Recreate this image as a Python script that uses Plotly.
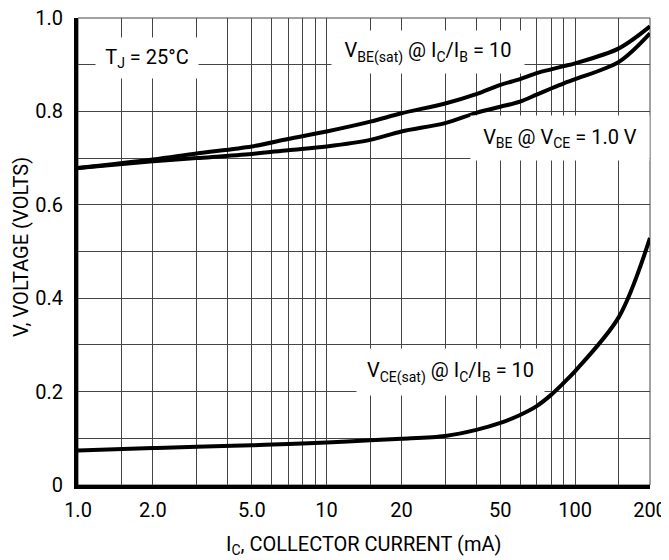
import math
import plotly.graph_objects as go

# Collector current (mA) at which values were read
ic_ma = [1, 2, 3, 5, 7, 10, 15, 20, 30, 40, 50, 60, 70, 80, 90, 100, 150, 200]

vbe_sat = [0.679, 0.697, 0.710, 0.725, 0.741, 0.757, 0.778, 0.796, 0.817, 0.837, 0.857, 0.869, 0.882, 0.890, 0.897, 0.903, 0.935, 0.982]
vbe_on = [0.679, 0.693, 0.700, 0.709, 0.717, 0.725, 0.739, 0.757, 0.775, 0.797, 0.810, 0.821, 0.836, 0.849, 0.860, 0.869, 0.906, 0.967]
vce_sat = [0.074, 0.079, 0.082, 0.085, 0.088, 0.091, 0.096, 0.099, 0.105, 0.118, 0.133, 0.150, 0.169, 0.193, 0.219, 0.244, 0.360, 0.529]

x_ticks = [1, 2, 5, 10, 20, 50, 100, 200]
x_tick_text = ["1.0", "2.0", "5.0", "10", "20", "50", "100", "200"]
x_grid = [1.5, 3, 4, 6, 7, 8, 9, 15, 30, 40, 60, 70, 80, 90, 150]
y_ticks = [0, 0.2, 0.4, 0.6, 0.8, 1.0]
y_tick_text = ["0", "0.2", "0.4", "0.6", "0.8", "1.0"]
y_grid = [0.1, 0.3, 0.5, 0.7, 0.9]

FONT = "Roboto, Liberation Sans, Arial, sans-serif"
GRID = "#454545"

fig = go.Figure()
for ys in (vbe_sat, vbe_on, vce_sat):
    fig.add_trace(go.Scatter(x=ic_ma, y=ys, mode="lines",
                             line=dict(color="black", width=4, shape="spline", smoothing=0.9),
                             showlegend=False, hoverinfo="skip"))

# the page body adds an 8 px offset, so the figure is 8 px smaller and shifted
fig.update_layout(
    width=661, height=552,
    margin=dict(l=70, r=19, t=10, b=75, autoexpand=False),
    paper_bgcolor="white", plot_bgcolor="white",
    font=dict(family=FONT, size=20, color="black"),
    xaxis=dict(type="log", range=[0, math.log10(200)],
               tickmode="array", tickvals=x_ticks, ticktext=x_tick_text,
               showgrid=True, gridcolor=GRID, gridwidth=1,
               minor=dict(tickmode="array", tickvals=x_grid, showgrid=True,
                          gridcolor=GRID, gridwidth=1, ticks=""),
               showline=True, linecolor="black", linewidth=4,
               ticks="", zeroline=False, automargin=False, ticklabelstandoff=4,
               ticklabeloverflow="allow"),
    yaxis=dict(range=[0, 1.0],
               tickmode="array", tickvals=y_ticks, ticktext=y_tick_text,
               showgrid=True, gridcolor=GRID, gridwidth=1,
               minor=dict(tickmode="array", tickvals=y_grid, showgrid=True,
                          gridcolor=GRID, gridwidth=1, ticks=""),
               showline=True, linecolor="black", linewidth=4,
               ticks="", zeroline=False, automargin=False, ticklabelstandoff=7,
               ticklabeloverflow="allow"),
)

fig.add_shape(type="rect", xref="paper", yref="paper", x0=0, y0=0, x1=1, y1=1,
              line=dict(color=GRID, width=1), layer="below")

# axis titles
fig.add_annotation(text="V, VOLTAGE (VOLTS)", textangle=-90, xref="paper", yref="paper",
                   x=-0.0995, y=0.51, xanchor="center", yanchor="middle",
                   showarrow=False, font=dict(size=20))
fig.add_annotation(text="I<sub>C</sub>, COLLECTOR CURRENT (mA)", xref="paper", yref="paper",
                   x=0.5, y=-0.128, xanchor="center", yanchor="middle", showarrow=False,
                   font=dict(size=20))

ann = dict(showarrow=False, bgcolor="white", xanchor="center", yanchor="middle",
           font=dict(family=FONT, size=20, color="black"))
fig.add_annotation(x=(147 - 78) / 572, y=0.914, xref="paper", yref="y",
                   text="T<sub>J</sub> = 25°C", width=100, height=38, **ann)
fig.add_annotation(x=(428 - 78) / 572, y=0.928, xref="paper", yref="y",
                   text="V<sub>BE(sat)</sub> @ I<sub>C</sub>/I<sub>B</sub> = 10", width=190, height=40, **ann)
fig.add_annotation(x=(560 - 78) / 572, y=0.742, xref="paper", yref="y",
                   text="V<sub>BE</sub> @ V<sub>CE</sub> = 1.0 V", width=176, height=42, **ann)
fig.add_annotation(x=(450 - 78) / 572, y=0.242, xref="paper", yref="y",
                   text="V<sub>CE(sat)</sub> @ I<sub>C</sub>/I<sub>B</sub> = 10", width=185, height=44, **ann)

fig.write_html("out.html")
